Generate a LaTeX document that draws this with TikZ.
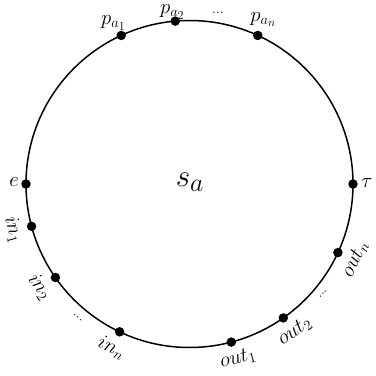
\documentclass[tikz,border=0pt]{standalone}
\usetikzlibrary{calc}
\begin{document}
\begin{tikzpicture}[x=1pt,y=1pt,
  dotmark/.style={circle,fill=black,inner sep=0pt,minimum size=9.5pt},
  lab/.style={inner sep=0pt,font=\huge},
  ell/.style={inner sep=0pt,font=\fontsize{14}{16}\selectfont},
  ring/.style={draw,line width=1.5pt}]
\useasboundingbox (0,0) rectangle (376,376);
\coordinate (C) at (189.5,192);
\draw[ring] (C) circle (163.5);
\node[font=\Huge,scale=1.25] (sa) at (190,194) {$s_a$};
% dots
\foreach \n/\a in {pa1/114.7,pa2/95,pan/65.3,e/180,tau/0,in1/195,in2/214.9,inn/244.7,out1/284.8,out2/305,outn/335.2}{
  \node[dotmark] (d\n) at ($(C)+(\a:163.5)$) {};
}
% top labels
\node[lab] (lpa1) at ($(C)+(115.3:178)$) {$p_{a_1}$};
\node[lab] (lpa2) at ($(C)+(95.7:172.5)$) {$p_{a_2}$};
\node[lab] (lpan) at ($(C)+(65.8:180)$) {$p_{a_n}$};
\node[ell] (ldt) at ($(C)+(80.6:174)$) {...};
\node[lab] (le) at (14,194) {$e$};
\node[lab] (ltau) at (367,193) {$\tau$};
\node[lab,rotate=-75] (lin1) at ($(C)+(194.5:182)$) {$in_1$};
\node[lab,rotate=-55] (lin2) at ($(C)+(214.5:182)$) {$in_2$};
\node[ell,rotate=-40] (ldl) at ($(C)+(230:174)$) {...};
\node[lab,rotate=-25] (linn) at ($(C)+(244.5:181)$) {$in_n$};
\node[lab,rotate=15] (lout1) at ($(C)+(285.5:181)$) {$out_1$};
\node[lab,rotate=35] (lout2) at ($(C)+(305.5:181)$) {$out_2$};
\node[ell,rotate=50] (ldr) at ($(C)+(320.5:173)$) {...};
\node[lab,rotate=65] (loutn) at ($(C)+(335.5:182)$) {$out_n$};
\end{tikzpicture}
\end{document}
